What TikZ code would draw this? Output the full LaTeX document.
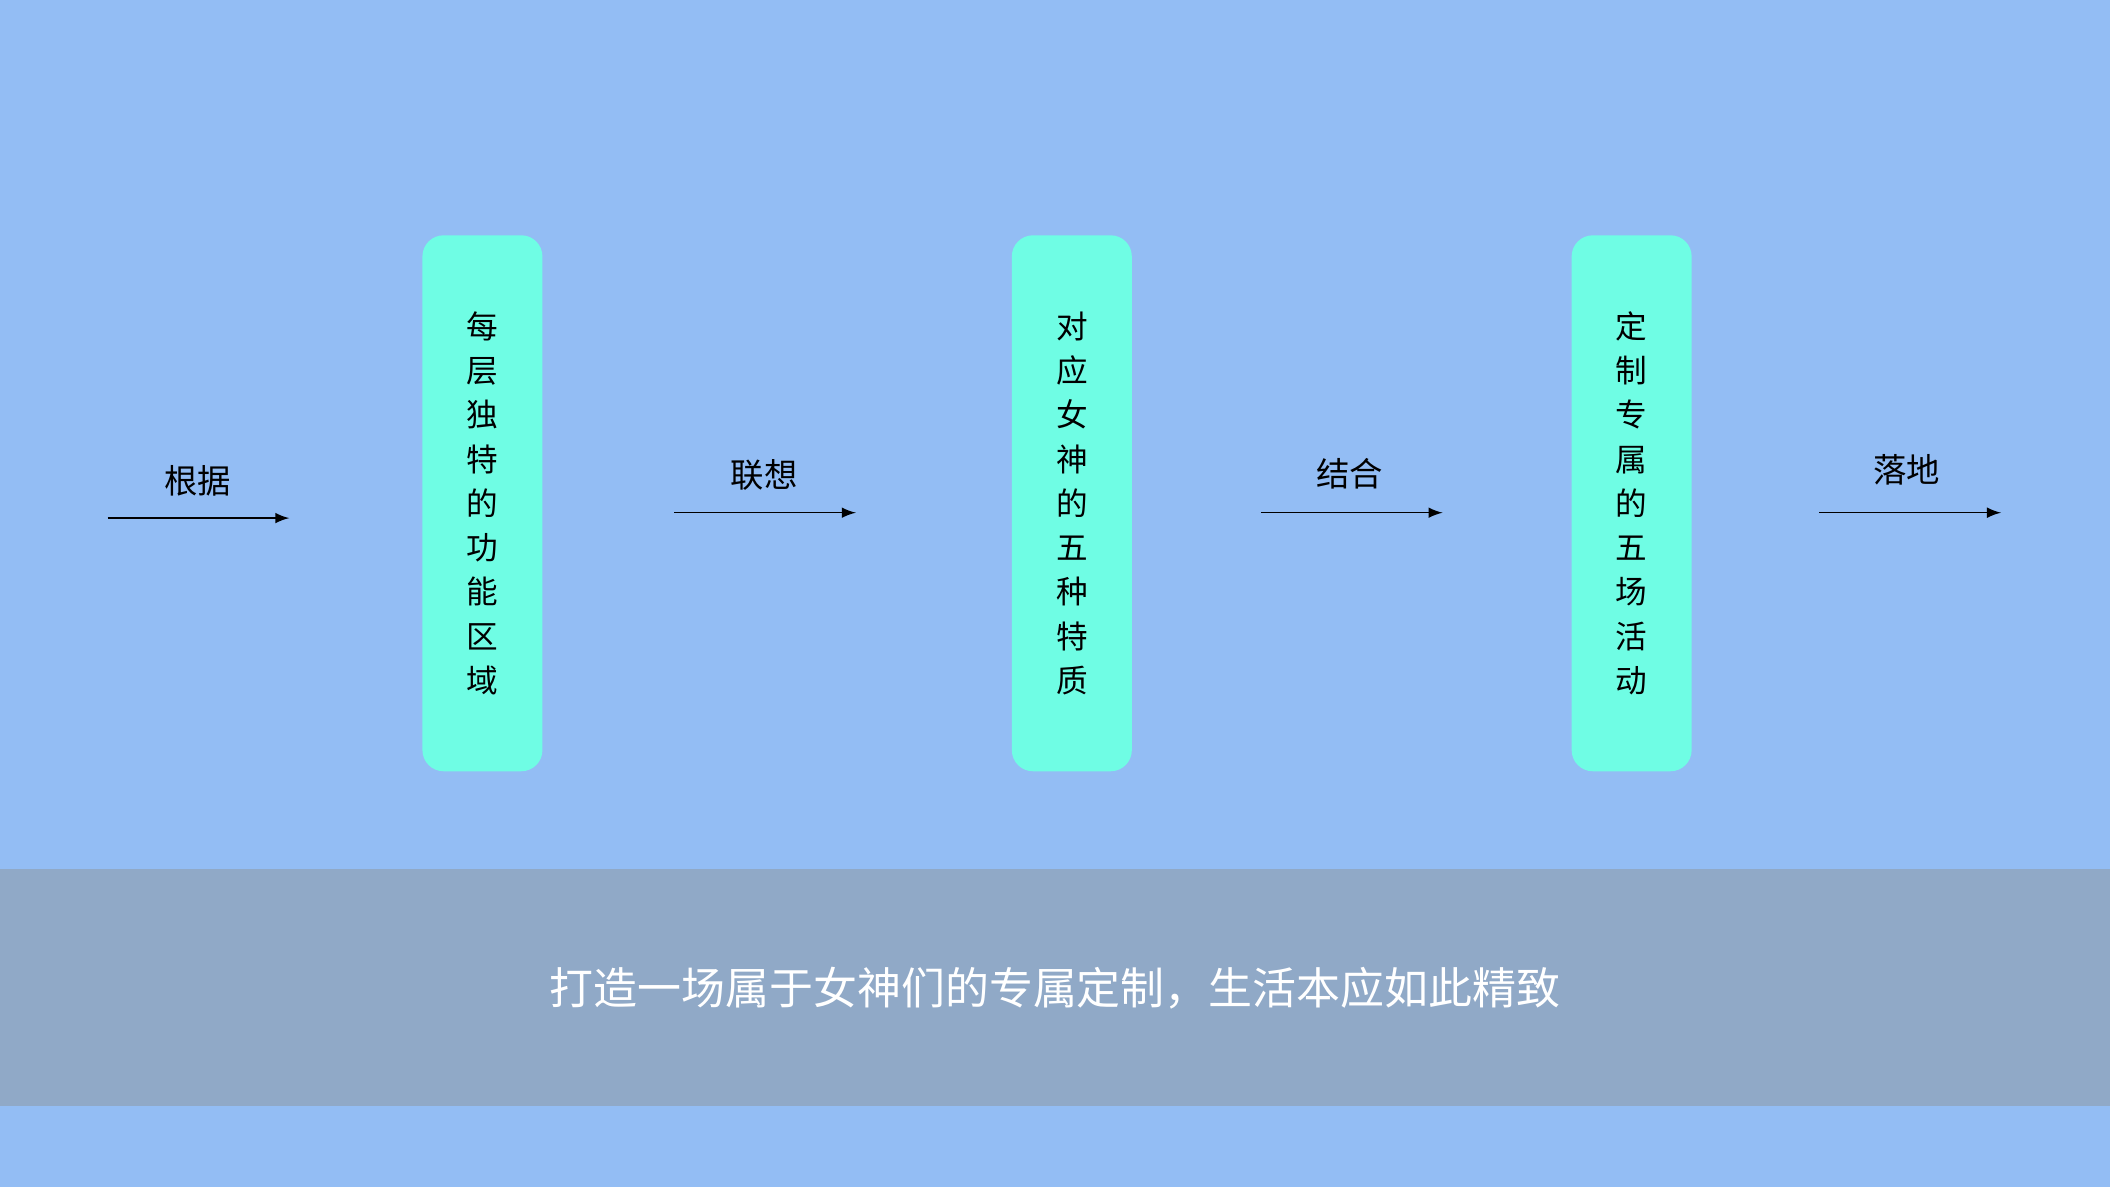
\documentclass[tikz,border=0pt]{standalone}
\usepackage{fontspec}
\setmainfont{Noto Sans CJK SC}
\usetikzlibrary{positioning}
\definecolor{bgblue}{HTML}{93BDF4}
\definecolor{bandgrey}{HTML}{90A9C7}
\definecolor{boxcyan}{HTML}{6FFDE4}
\tikzset{Pillar/.style={
    draw=none,
    fill=boxcyan,
    rounded corners=6pt,
    minimum width=1.2cm,
    minimum height=5.36cm,
    align=center,
    font=\fontsize{9}{12.6}\selectfont,
    }
}
\tikzset{Step/.style={font=\fontsize{9.5}{11}\selectfont}}
\begin{document}
\begin{tikzpicture}[x=0.013457cm, y=-0.013457cm, >=latex]
% background and band
\fill[bgblue] (0,0) rectangle (1568,882);
\useasboundingbox (0,0) rectangle (1568,882);
\fill[bandgrey] (0,646) rectangle (1568,822);
% pillars
\node [Pillar] (zone) at (358.5,374) {每\\层\\独\\特\\的\\功\\能\\区\\域};
\node [Pillar] (trait) at (796.5,374) {对\\应\\女\\神\\的\\五\\种\\特\\质};
\node [Pillar] (event) at (1212.5,374) {定\\制\\专\\属\\的\\五\\场\\活\\动};
% arrows
\coordinate (a1) at (80,385);  \coordinate (b1) at (215,385);
\coordinate (a2) at (501,381); \coordinate (b2) at (636,381);
\coordinate (a3) at (937,381); \coordinate (b3) at (1072,381);
\coordinate (a4) at (1352,381);\coordinate (b4) at (1487,381);
\draw[->, thin] (a1) -- (b1);
\draw[->, thin] (a2) -- (b2);
\draw[->, thin] (a3) -- (b3);
\draw[->, thin] (a4) -- (b4);
\node [Step] (l1) at (147,357) {根据};
\node [Step] (l2) at (568,353) {联想};
\node [Step] (l3) at (1003,352) {结合};
\node [Step] (l4) at (1417,349) {落地};
% slogan
\node [text=white, font=\fontsize{12.5}{14}\selectfont] (slogan) at (784,734)
  {打造一场属于女神们的专属定制，生活本应如此精致};
\end{tikzpicture}
\end{document}
